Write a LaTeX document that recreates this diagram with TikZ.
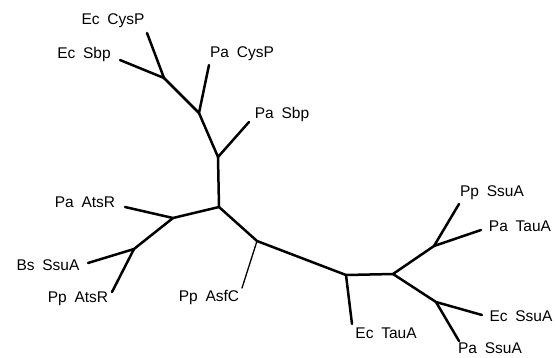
\documentclass[tikz,border=0pt]{standalone}
\usepackage{fontspec}
\setmainfont{Liberation Sans}
\newcommand{\gap}{\hspace{0.5em}}
\begin{document}
\begin{tikzpicture}[x=1pt,y=-1pt,
  br/.style={line width=2.5pt,line cap=round},
  thin br/.style={line width=1.3pt,line cap=round},
  lab/.style={font=\fontsize{15.5}{15.5}\selectfont,inner sep=0pt}]
\useasboundingbox (0,0) rectangle (555,357);
% internal nodes
\coordinate (A) at (164,78);
\coordinate (B) at (199,113);
\coordinate (C) at (218,157);
\coordinate (D) at (219,207);
\coordinate (E) at (173,218);
\coordinate (F) at (134,249);
\coordinate (G) at (257,241);
\coordinate (H) at (346,275);
\coordinate (I) at (393,274);
\coordinate (J) at (434,246);
\coordinate (K) at (436,302);
% leaf ends
\coordinate (lEcCysP) at (147,33);
\coordinate (lEcSbp) at (120,60);
\coordinate (lPaCysP) at (209,65);
\coordinate (lPaSbp) at (249,122);
\coordinate (lPaAtsR) at (125,207);
\coordinate (lBsSsuA) at (88,263);
\coordinate (lPpAtsR) at (112,292);
\coordinate (lPpAsfC) at (242,288);
\coordinate (lEcTauA) at (352,324);
\coordinate (lPpSsuA) at (459,204);
\coordinate (lPaTauA) at (481,230);
\coordinate (lEcSsuA) at (482,315);
\coordinate (lPaSsuA) at (459,341);
% labels
\node[lab] (tEcCysP) at (113,21) {Ec\gap CysP};
\node[lab] (tEcSbp) at (84,54) {Ec\gap Sbp};
\node[lab] (tPaCysP) at (242,54) {Pa\gap CysP};
\node[lab] (tPaSbp) at (282,114) {Pa\gap Sbp};
\node[lab] (tPaAtsR) at (85,202) {Pa\gap AtsR};
\node[lab] (tBsSsuA) at (48,265) {Bs\gap SsuA};
\node[lab] (tPpAtsR) at (78,299) {Pp\gap AtsR};
\node[lab] (tPpAsfC) at (209,297) {Pp\gap AsfC};
\node[lab] (tEcTauA) at (386,333) {Ec\gap TauA};
\node[lab] (tPpSsuA) at (492,193) {Pp\gap SsuA};
\node[lab] (tPaTauA) at (520,226) {Pa\gap TauA};
\node[lab] (tEcSsuA) at (521,316) {Ec\gap SsuA};
\node[lab] (tPaSsuA) at (490,348) {Pa\gap SsuA};
% tree
\draw[br] (lEcCysP) -- (A) -- (lEcSbp);
\draw[br] (A) -- (B) -- (lPaCysP);
\draw[br] (B) -- (C) -- (lPaSbp);
\draw[br] (C) -- (D);
\draw[br] (D) -- (E) -- (lPaAtsR);
\draw[br] (E) -- (F) -- (lBsSsuA);
\draw[br] (F) -- (lPpAtsR);
\draw[br] (D) -- (G) -- (H);
\draw[thin br] (G) -- (lPpAsfC);
\draw[br] (H) -- (lEcTauA);
\draw[br] (H) -- (I) -- (J) -- (lPpSsuA);
\draw[br] (J) -- (lPaTauA);
\draw[br] (I) -- (K) -- (lEcSsuA);
\draw[br] (K) -- (lPaSsuA);
\end{tikzpicture}
\end{document}
